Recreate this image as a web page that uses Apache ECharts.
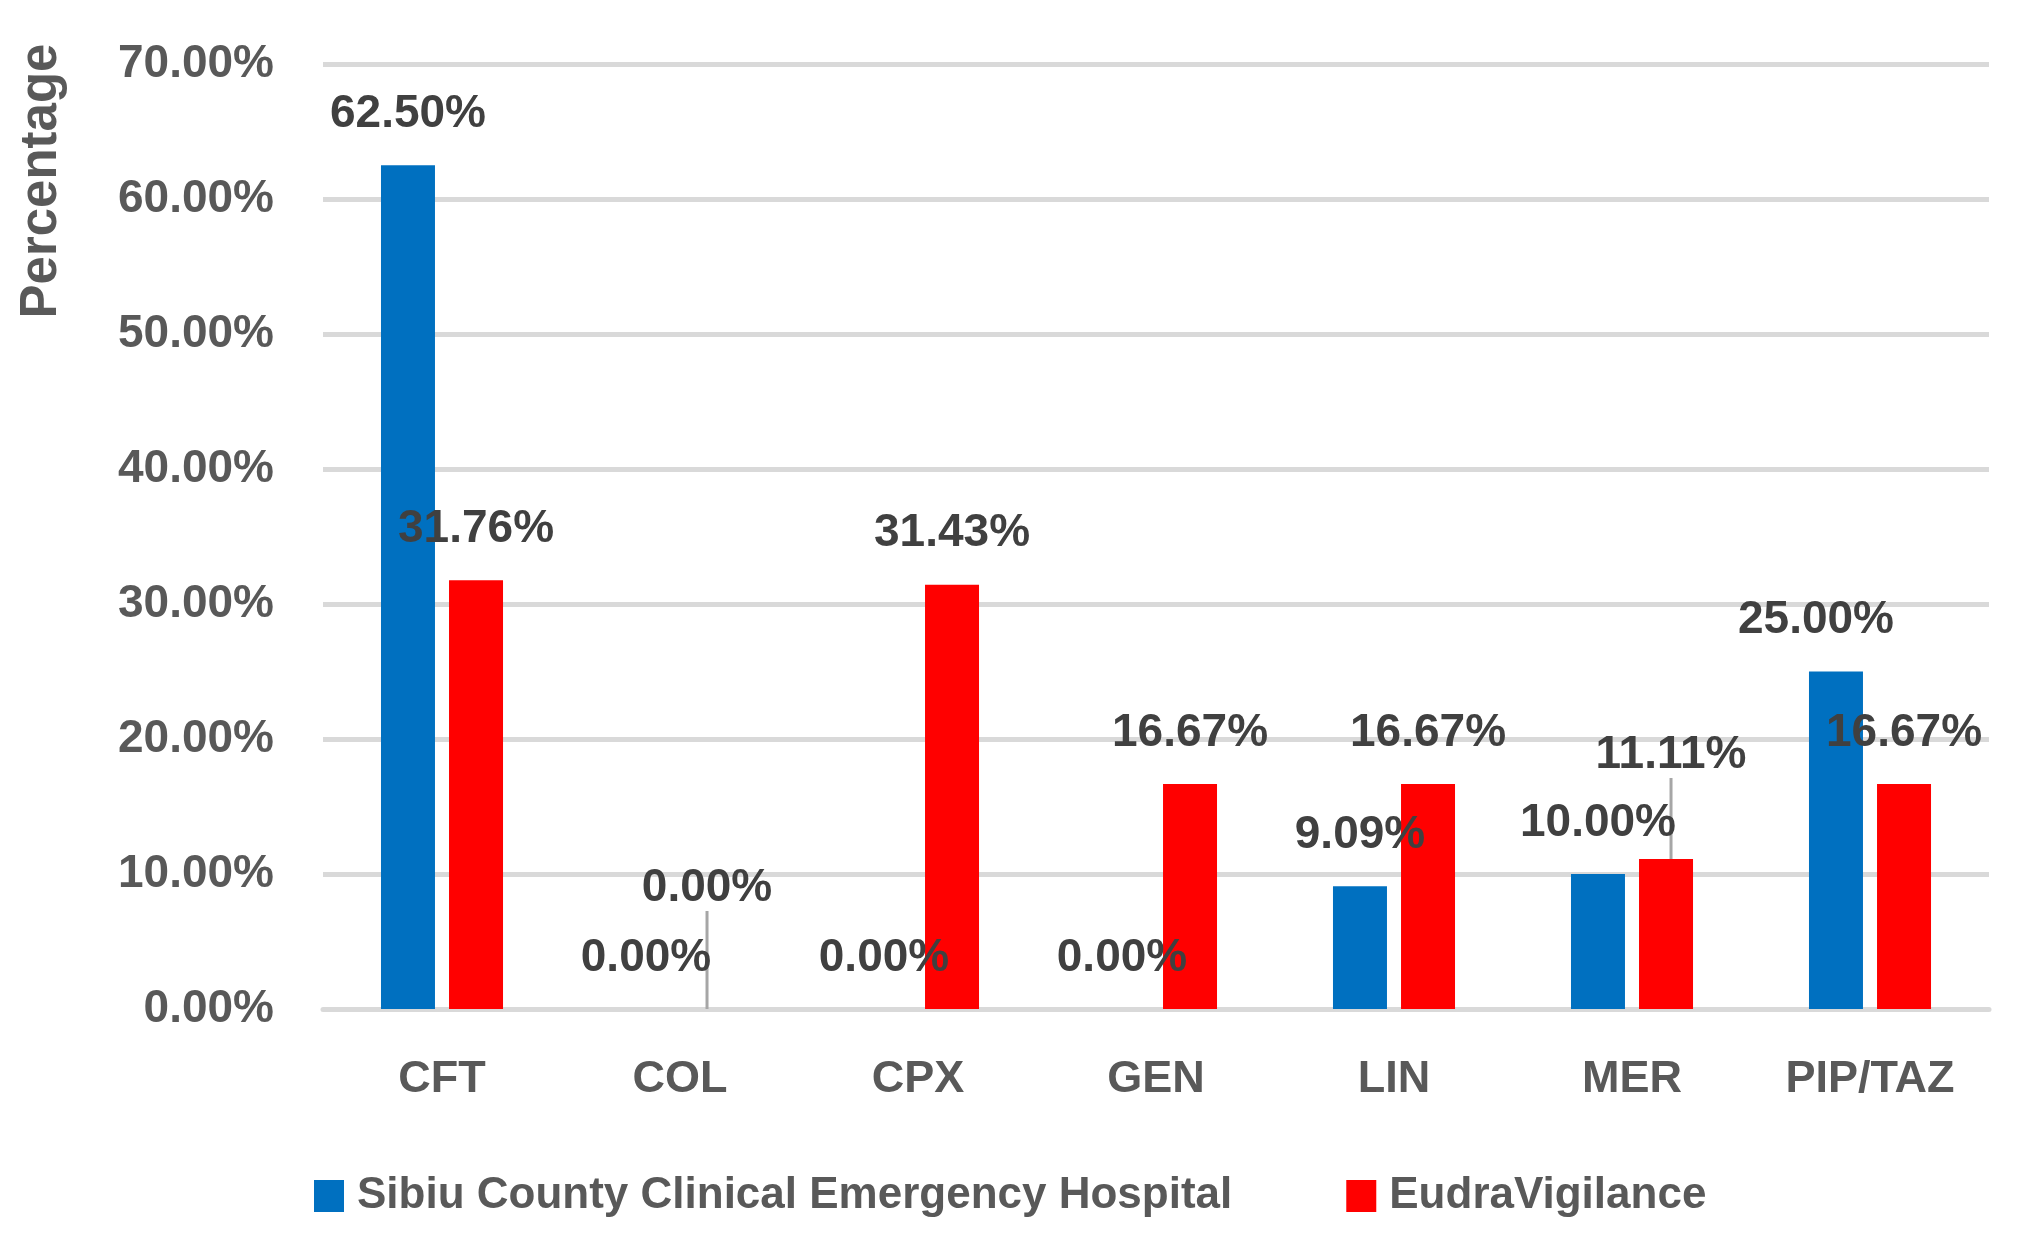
<!DOCTYPE html>
<html><head><meta charset="utf-8">
<script src="https://cdn.jsdelivr.net/npm/echarts@6/dist/echarts.min.js"></script>
<style>html,body{margin:0;padding:0;background:#fff}#c{width:2017px;height:1252px}</style>
</head><body><div id="c"></div>
<script>
const categories = ['CFT','COL','CPX','GEN','LIN','MER','PIP/TAZ'];
const hospitalValues = [62.50, 0.00, 0.00, 0.00, 9.09, 10.00, 25.00];
const eudraValues = [31.76, 0.00, 31.43, 16.67, 16.67, 11.11, 16.67];
const seriesNames = ['Sibiu County Clinical Emergency Hospital', 'EudraVigilance'];
const yTicks = { min: 0, max: 70, interval: 10 };

const FONT = '"Liberation Sans", Arial, sans-serif';
// label moves (Excel-style manual placement)
const hospMoves = {6: {dx: -20, dy: 0}};
const eudraMoves = {1: {dx: -7, dy: -70}, 5: {dx: 5, dy: -53}};

function mkData(vals, moves){
  return vals.map((v,i)=> moves[i] && moves[i].dy ? {value: v, labelLine:{show:true}} : {value: v});
}
const labelStyle = {
  show: true, position: 'top', distance: 28,
  fontFamily: FONT, fontSize: 46, fontWeight: 'bold', color: '#404040',
  formatter: p => p.value.toFixed(2) + '%'
};
const chart = echarts.init(document.getElementById('c'));
chart.setOption({
  animation: false,
  backgroundColor: '#fff',
  grid: { left: 323, right: 28, top: 64, bottom: 243, containLabel: false },
  legend: {
    left: 309, top: 1169, itemWidth: 30, itemHeight: 32, itemGap: 114,
    icon: 'rect',
    textStyle: { fontFamily: FONT, fontSize: 44, fontWeight: 'bold', color: '#595959', padding: [0,0,0,8] },
    data: seriesNames
  },
  graphic: [{
    type: 'text', x: 42, y: 181, rotation: Math.PI/2,
    style: { text: 'Percentage', x: 0, y: 0, align: 'center', verticalAlign: 'middle',
      font: 'bold 51px ' + FONT, fill: '#595959' }
  }],
  xAxis: {
    type: 'category', data: categories,
    axisLine: { show: true, lineStyle: { color: '#d9d9d9', width: 5 } },
    axisTick: { show: false },
    axisLabel: { margin: 48, fontFamily: FONT, fontSize: 45, fontWeight: 'bold', color: '#595959' }
  },
  yAxis: {
    type: 'value', min: yTicks.min, max: yTicks.max, interval: yTicks.interval,
    axisLine: { show: false }, axisTick: { show: false },
    splitLine: { lineStyle: { color: '#d9d9d9', width: 5 } },
    axisLabel: { margin: 49, fontFamily: FONT, fontSize: 46, fontWeight: 'bold', color: '#595959',
      formatter: v => v.toFixed(2) + '%' }
  },
  series: [
    { name: seriesNames[0], type: 'bar', data: mkData(hospitalValues, hospMoves),
      barWidth: 54, barGap: '26%', itemStyle: { color: '#0070c0' },
      label: labelStyle,
      labelLayout: p => hospMoves[p.dataIndex] || {},
      labelLine: { show: false, lineStyle: { color: '#a6a6a6', width: 3 } } },
    { name: seriesNames[1], type: 'bar', data: mkData(eudraValues, eudraMoves),
      barWidth: 54, itemStyle: { color: '#ff0000' },
      label: labelStyle,
      labelLayout: p => eudraMoves[p.dataIndex] || {},
      labelLine: { show: false, lineStyle: { color: '#a6a6a6', width: 3 } } }
  ]
});
</script></body></html>
